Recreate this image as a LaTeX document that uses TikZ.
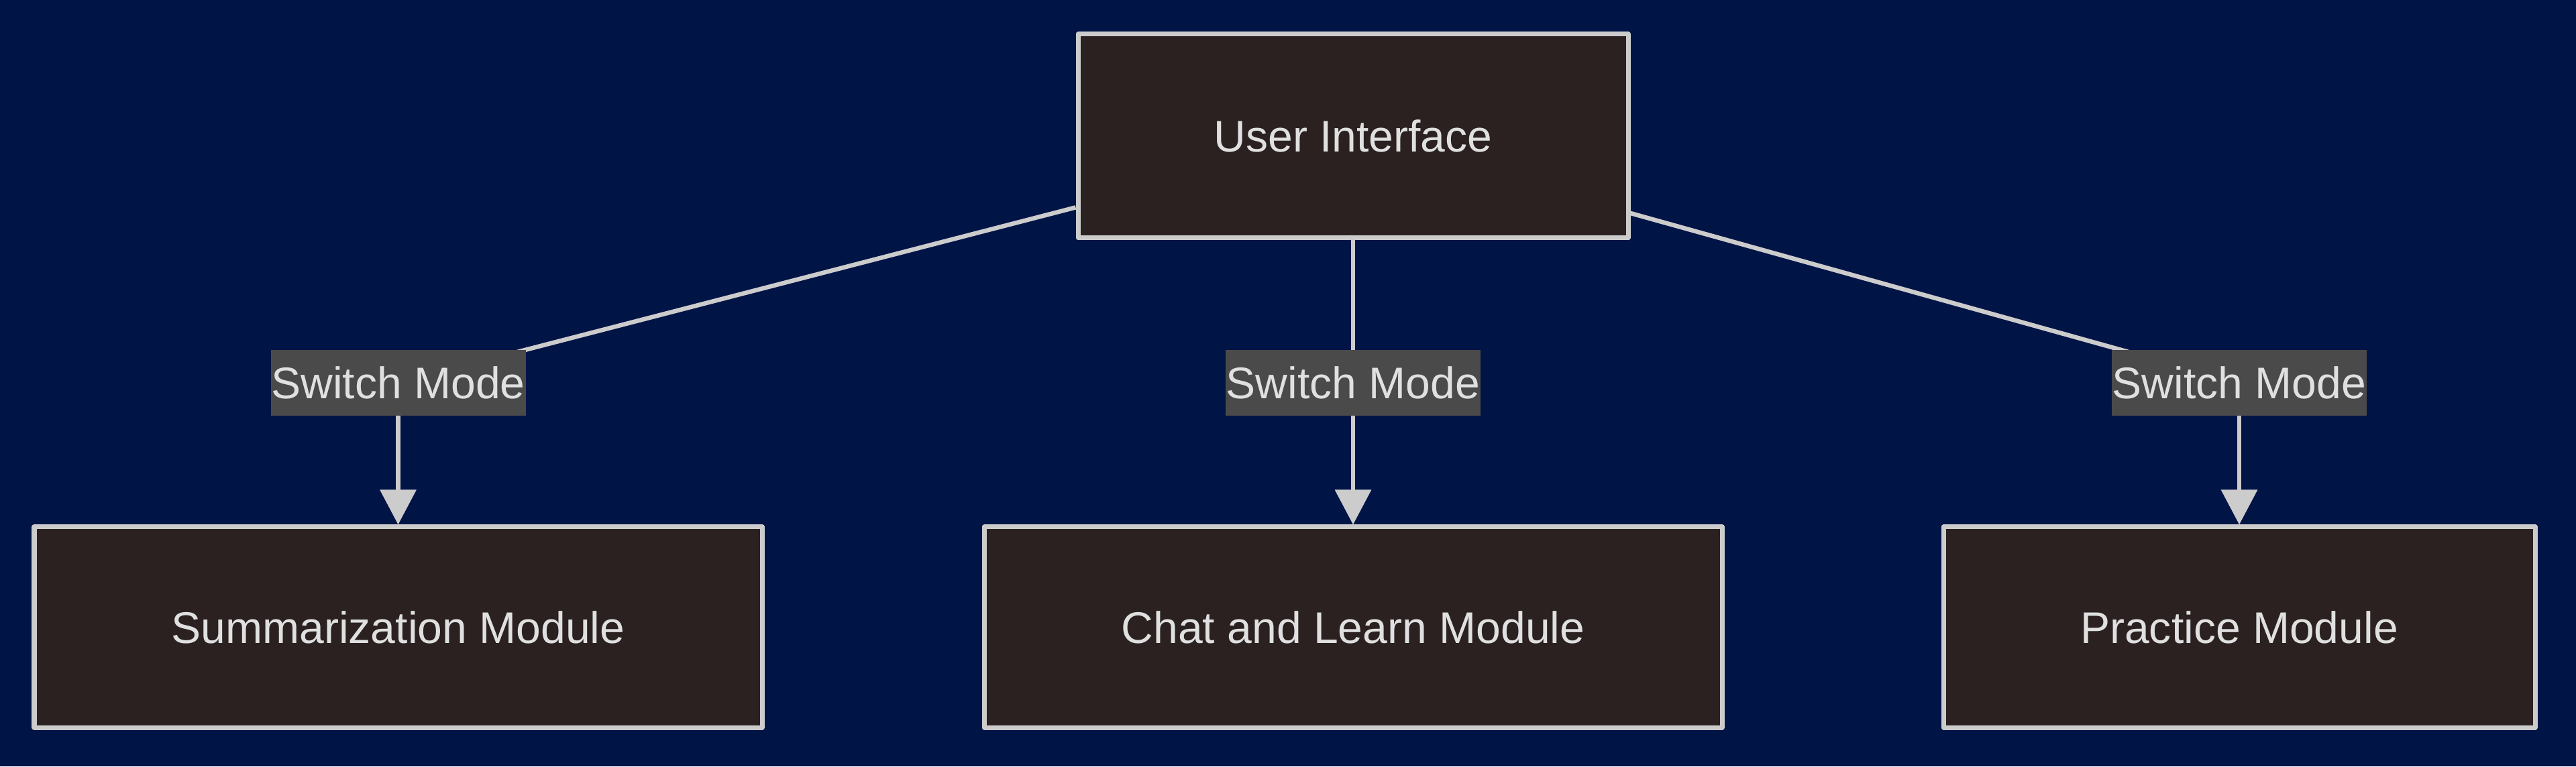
\documentclass[tikz,border=0pt]{standalone}
\usepackage{fontspec}
\setmainfont{Liberation Sans}
\usetikzlibrary{arrows.meta}
\definecolor{pagebg}{HTML}{001446}
\definecolor{boxfill}{HTML}{2B2121}
\definecolor{boxline}{HTML}{CCCCCC}
\definecolor{lblfill}{HTML}{4A4A4A}
\definecolor{txtcol}{HTML}{E0E0E0}
\pgfdeclarelayer{edges}
\pgfsetlayers{edges,main}
\begin{document}
\begin{tikzpicture}[line join=round,
	module/.style={draw=boxline, fill=boxfill, line width=0.07cm, text=txtcol, inner sep=0pt, minimum height=2.99cm},
	modelabel/.style={fill=lblfill, text=txtcol, inner sep=0pt, minimum width=3.8cm, minimum height=0.98cm},
	link/.style={draw=boxline, line width=0.065cm},
	linkarrow/.style={link, -{Triangle[width=0.53cm, length=0.52cm]}},
	font=\fontsize{18.8pt}{22pt}\selectfont]
	\useasboundingbox (0,0) rectangle (38.4,11.43);
	% modules
	\node[module, minimum width=8.2cm, minimum height=3.04cm] (ui) at (20.17,9.40) {User Interface};
	\node[module, minimum width=10.85cm] (summ) at (5.935,2.075) {Summarization Module};
	\node[module, minimum width=11.0cm] (chat) at (20.17,2.075) {Chat and Learn Module};
	\node[module, minimum width=8.82cm] (prac) at (33.38,2.075) {Practice Module};
	% edge labels
	\node[modelabel] (swsumm) at (5.935,5.72) {Switch Mode};
	\node[modelabel] (swchat) at (20.17,5.72) {Switch Mode};
	\node[modelabel] (swprac) at (33.38,5.72) {Switch Mode};
	\begin{pgfonlayer}{edges}
		\fill[pagebg] (0,0) rectangle (38.4,11.43);
		\draw[link] (ui) -- (swsumm.center);
		\draw[linkarrow] (swsumm.center) -- (summ);
		\draw[link] (ui) -- (swchat.center);
		\draw[linkarrow] (swchat.center) -- (chat);
		\draw[link] (ui) -- (swprac.center);
		\draw[linkarrow] (swprac.center) -- (prac);
	\end{pgfonlayer}
\end{tikzpicture}
\end{document}
